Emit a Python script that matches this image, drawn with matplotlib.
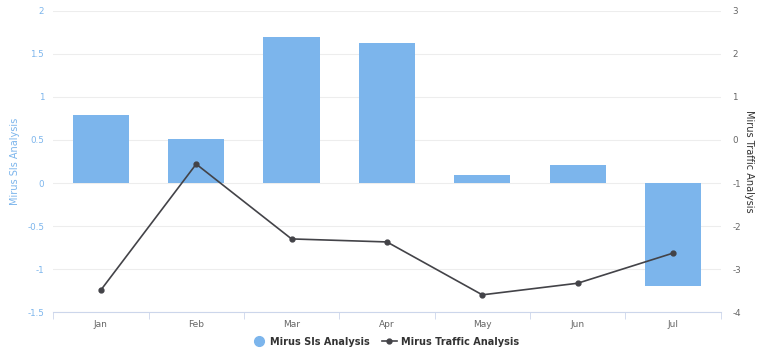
import matplotlib

matplotlib.use("Agg")
import matplotlib.pyplot as plt  # noqa: E402
from matplotlib.lines import Line2D  # noqa: E402

months = ["Jan", "Feb", "Mar", "Apr", "May", "Jun", "Jul"]
sls_values = [0.79, 0.51, 1.70, 1.63, 0.09, 0.21, -1.20]
traffic_values = [-3.49, -0.56, -2.30, -2.37, -3.60, -3.33, -2.63]
sls_ticks = [-1.5, -1, -0.5, 0, 0.5, 1, 1.5, 2]
traffic_ticks = [-4, -3, -2, -1, 0, 1, 2, 3]

BAR_COLOR = "#7cb5ec"
LINE_COLOR = "#434348"
GRID_COLOR = "#ededed"

plt.rcParams["font.family"] = ["DejaVu Sans"]

fig = plt.figure(figsize=(7.7, 3.53), dpi=100)
ax = fig.add_axes([0.069, 0.116, 0.867, 0.853])
ax2 = ax.twinx()

x = list(range(len(months)))
ax.bar(x, sls_values, width=0.59, color=BAR_COLOR, zorder=2)
ax2.plot(x, traffic_values, color=LINE_COLOR, linewidth=1.2,
         marker="o", markersize=3.5, zorder=3)

ax.set_xlim(-0.5, len(months) - 0.5)
ax.set_ylim(-1.5, 2)
ax.set_yticks(sls_ticks)
ax.set_yticklabels([f"{v:g}" for v in sls_ticks])
ax2.set_ylim(-4, 3)
ax2.set_yticks(traffic_ticks)
ax2.set_yticklabels([str(v) for v in traffic_ticks])

ax.grid(axis="y", color=GRID_COLOR, linewidth=0.8, zorder=0)
ax.set_axisbelow(True)

for a in (ax, ax2):
    for side in ("top", "left", "right", "bottom"):
        a.spines[side].set_visible(False)
ax.spines["bottom"].set_visible(True)
ax.spines["bottom"].set_color("#ccd6eb")

ax.set_xticks(x)
ax.set_xticklabels(months, fontsize=6.5, color="#666666")
ax.set_xticks([i - 0.5 for i in range(len(months) + 1)], minor=True)
ax.tick_params(axis="x", which="major", length=0, pad=6)
ax.tick_params(axis="x", which="minor", length=5, color="#ccd6eb", direction="out")

ax.tick_params(axis="y", length=0, labelsize=6.3, labelcolor=BAR_COLOR, pad=6.5)
ax2.tick_params(axis="y", length=0, labelsize=6.3, labelcolor="#666666", pad=8.5)

ax.set_ylabel("Mirus Sls Analysis", color=BAR_COLOR, fontsize=7, labelpad=5)
ax2.set_ylabel("Mirus Traffic Analysis", color="#333333", fontsize=7,
               rotation=270, labelpad=9)

handles = [
    Line2D([], [], linestyle="none", marker="o", markersize=7,
           markerfacecolor=BAR_COLOR, markeredgecolor=BAR_COLOR),
    Line2D([], [], color=LINE_COLOR, linewidth=1.2, marker="o", markersize=3.5),
]
fig.legend(handles, ["Mirus Sls Analysis", "Mirus Traffic Analysis"],
           loc="center", bbox_to_anchor=(0.5, 0.032), ncol=2, frameon=False,
           prop={"size": 7, "weight": "bold"}, handlelength=1.6,
           columnspacing=1.2, handletextpad=0.4, labelcolor="#333333")

fig.savefig("out.png", dpi=100)
